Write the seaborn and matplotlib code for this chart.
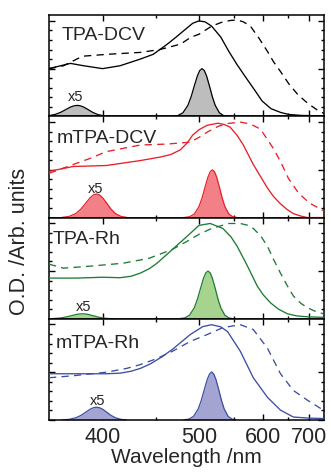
import numpy as np
import pandas as pd
import matplotlib
matplotlib.use("Agg")
import matplotlib.pyplot as plt
import seaborn as sns
from matplotlib.ticker import MultipleLocator, NullFormatter, FixedLocator

# ---------------- data (wavelength in nm, O.D. normalised) ----------------
names = ["TPA-DCV", "mTPA-DCV", "TPA-Rh", "mTPA-Rh"]
line_colors = ["#000000", "#e8202a", "#1e7b34", "#3b4ea3"]
fill_colors = ["#bdbdbd", "#f28086", "#a6d48e", "#a4a4d2"]

# solid: solution absorption
sol_wl = [
    [360, 368, 375, 385, 400, 415, 434, 447, 462, 472, 480, 492, 500, 508, 517, 530, 542, 555, 570, 585, 598, 615, 635, 652, 680, 740],
    [360, 377, 403, 434, 455, 466, 477, 485, 492, 500, 511, 526, 535, 544, 555, 565, 582, 595, 608, 620, 634, 648, 662, 680, 696, 740],
    [360, 380, 400, 415, 425, 434, 443, 451, 468, 485, 500, 515, 533, 545, 555, 572, 589, 600, 614, 630, 649, 670, 696, 740],
    [360, 380, 403, 415, 425, 434, 444, 456, 468, 489, 505, 517, 530, 540, 560, 582, 608, 634, 662, 696, 740],
]
sol_od = [
    [0.50, 0.53, 0.555, 0.53, 0.50, 0.53, 0.60, 0.65, 0.756, 0.83, 0.89, 0.975, 1.00, 0.99, 0.945, 0.83, 0.68, 0.54, 0.40, 0.27, 0.16, 0.08, 0.04, 0.02, 0.01, 0.005],
    [0.484, 0.535, 0.545, 0.597, 0.635, 0.66, 0.71, 0.78, 0.864, 0.92, 0.967, 0.988, 0.975, 0.947, 0.86, 0.76, 0.556, 0.43, 0.309, 0.22, 0.144, 0.085, 0.041, 0.015, 0.0, 0.0],
    [0.426, 0.426, 0.435, 0.43, 0.445, 0.478, 0.525, 0.582, 0.728, 0.863, 0.978, 0.998, 0.946, 0.86, 0.759, 0.551, 0.343, 0.25, 0.166, 0.10, 0.052, 0.03, 0.02, 0.015],
    [0.484, 0.484, 0.484, 0.49, 0.51, 0.54, 0.587, 0.66, 0.741, 0.895, 0.978, 0.998, 0.975, 0.926, 0.72, 0.442, 0.237, 0.103, 0.031, 0.02, 0.015],
]

# dashed: film absorption
film_wl = [
    [360, 370, 384, 404, 434, 454, 477, 490, 500, 517, 533, 545, 555, 565, 577, 592, 608, 620, 634, 652, 672, 690, 700, 720, 740],
    [360, 377, 390, 403, 434, 462, 489, 500, 511, 526, 540, 560, 577, 595, 620, 634, 651, 674, 700, 738],
    [360, 370, 390, 418, 443, 468, 485, 500, 517, 542, 560, 572, 582, 595, 608, 620, 634, 648, 662, 680, 696, 715, 738],
    [360, 377, 403, 421, 434, 450, 468, 489, 511, 533, 560, 582, 608, 634, 662, 696, 738],
]
film_od = [
    [0.50, 0.53, 0.63, 0.65, 0.67, 0.70, 0.756, 0.83, 0.86, 0.945, 0.99, 1.005, 1.01, 0.99, 0.945, 0.82, 0.68, 0.57, 0.47, 0.34, 0.23, 0.16, 0.126, 0.07, 0.03],
    [0.463, 0.556, 0.62, 0.69, 0.76, 0.77, 0.79, 0.84, 0.895, 0.955, 0.985, 1.0, 0.98, 0.926, 0.72, 0.587, 0.41, 0.257, 0.154, 0.072],
    [0.572, 0.53, 0.551, 0.582, 0.634, 0.728, 0.811, 0.884, 0.946, 0.998, 0.998, 0.98, 0.946, 0.87, 0.759, 0.62, 0.478, 0.35, 0.239, 0.16, 0.114, 0.08, 0.052],
    [0.442, 0.463, 0.50, 0.54, 0.58, 0.64, 0.72, 0.823, 0.895, 0.967, 0.998, 0.947, 0.751, 0.484, 0.309, 0.206, 0.103],
]

# filled peaks (short-wavelength one is multiplied x5)
small_wl = [
    [354, 359, 364, 368, 372, 375, 377.5, 380, 382.5, 385, 388, 392, 396, 401, 406],
    [369, 374, 379, 383, 387, 390, 392.5, 395, 397.5, 400, 403, 407, 411, 416, 421],
    [358, 363, 368, 372, 376, 379, 381.5, 384, 386.5, 389, 392, 396, 400, 405, 410],
    [369, 374, 379, 383, 387, 390, 392.5, 395, 397.5, 400, 403, 407, 411, 416, 421],
]
small_od = [
    [0.001, 0.0054, 0.0196, 0.042, 0.074, 0.097, 0.110, 0.115, 0.110, 0.097, 0.074, 0.042, 0.0196, 0.0054, 0.001],
    [0.002, 0.0116, 0.042, 0.091, 0.159, 0.208, 0.237, 0.247, 0.237, 0.208, 0.159, 0.091, 0.042, 0.0116, 0.002],
    [0.0005, 0.0024, 0.0088, 0.019, 0.033, 0.044, 0.050, 0.052, 0.050, 0.044, 0.033, 0.019, 0.0088, 0.0024, 0.0005],
    [0.0012, 0.0063, 0.0228, 0.049, 0.086, 0.113, 0.128, 0.134, 0.128, 0.113, 0.086, 0.049, 0.0228, 0.0063, 0.0012],
]
big_wl = [
    [468, 474, 480, 486, 490, 494, 498, 501, 504, 507, 510, 514, 518, 522, 528, 534, 540],
    [482, 488, 494, 500, 504, 508, 512, 515, 518, 521, 524, 528, 532, 536, 542, 548, 554],
    [476, 482, 488, 494, 498, 502, 506, 509, 512, 515, 518, 522, 526, 530, 536, 542, 548],
    [481, 487, 493, 499, 503, 507, 511, 514, 517, 520, 523, 527, 531, 535, 541, 547, 553],
]
big_od = [
    [0.0015, 0.0085, 0.037, 0.115, 0.205, 0.318, 0.425, 0.48, 0.5, 0.48, 0.425, 0.318, 0.205, 0.115, 0.037, 0.0085, 0.0015],
    [0.0015, 0.0085, 0.037, 0.115, 0.205, 0.318, 0.425, 0.48, 0.5, 0.48, 0.425, 0.318, 0.205, 0.115, 0.037, 0.0085, 0.0015],
    [0.0015, 0.0085, 0.037, 0.115, 0.205, 0.318, 0.425, 0.48, 0.5, 0.48, 0.425, 0.318, 0.205, 0.115, 0.037, 0.0085, 0.0015],
    [0.0015, 0.0085, 0.037, 0.115, 0.205, 0.318, 0.425, 0.48, 0.504, 0.48, 0.425, 0.318, 0.205, 0.115, 0.037, 0.0085, 0.0015],
]
x5_pos = [(379, 0.158), (394, 0.257), (384.6, 0.083), (395.8, 0.154)]
label_pos = [(0.047, 0.75), (0.029, 0.735), (0.015, 0.743), (0.025, 0.716)]

xticks_major = [400, 500, 600, 700]
xticks_minor = [450, 550, 650]
xlim = (360, 740)

# ---------------- style ----------------
sns.set_theme(style="ticks")
plt.rcParams["font.family"] = ["Liberation Sans", "DejaVu Sans"]
plt.rcParams["axes.linewidth"] = 1.1

fig, axes = plt.subplots(4, 1, sharex=True, figsize=(3.31, 4.74), dpi=100)
fig.subplots_adjust(left=0.148, right=0.979, top=0.968, bottom=0.114, hspace=0)


def fwd(x):
    x = np.asarray(x, dtype=float)
    with np.errstate(divide="ignore", invalid="ignore"):
        return -1240.0 / x


def inv(y):
    y = np.asarray(y, dtype=float)
    with np.errstate(divide="ignore", invalid="ignore"):
        return -1240.0 / y


for i, ax in enumerate(axes):
    c = line_colors[i]
    fc = fill_colors[i]
    # filled peaks
    for wl, od in ((small_wl[i], small_od[i]), (big_wl[i], big_od[i])):
        ax.fill_between(wl, 0, od, color=fc, linewidth=0, zorder=1)
        sns.lineplot(x=wl, y=od, ax=ax, color=c, linewidth=0.9, sort=False,
                     estimator=None, zorder=2)
    sns.lineplot(x=sol_wl[i], y=sol_od[i], ax=ax, color=c, linewidth=0.95,
                 sort=False, estimator=None, zorder=3)
    sns.lineplot(x=film_wl[i], y=film_od[i], ax=ax, color=c, linewidth=0.95,
                 sort=False, estimator=None, zorder=3,
                 linestyle=(0, (5.5, 4.0)))
    ax.text(x5_pos[i][0], x5_pos[i][1], "x5", ha="center", va="baseline",
            fontsize=10.5)
    ax.text(label_pos[i][0], label_pos[i][1], names[i], transform=ax.transAxes,
            ha="left", va="baseline", fontsize=14)

    ax.set_xscale("function", functions=(fwd, inv))
    ax.set_xlim(*xlim)
    ax.set_ylim(0, 1.06)
    ax.yaxis.set_major_locator(MultipleLocator(0.5))
    ax.yaxis.set_minor_locator(MultipleLocator(0.1))
    ax.yaxis.set_major_formatter(NullFormatter())
    ax.set_ylabel("")
    ax.xaxis.set_minor_locator(FixedLocator(xticks_minor))
    ax.set_xticks(xticks_major)
    ax.tick_params(which="both", direction="in", top=True, right=True,
                   color="black", width=1.0)
    ax.tick_params(which="major", length=4.5)
    ax.tick_params(which="minor", length=2.5)
    for sp in ax.spines.values():
        sp.set_color("black")
        sp.set_linewidth(1.1)

axes[-1].set_xticklabels([str(v) for v in xticks_major], fontsize=15.5)
axes[-1].tick_params(axis="x", pad=5)
axes[-1].set_xlabel("Wavelength /nm", fontsize=15, labelpad=0)
for ax in axes[:-1]:
    ax.tick_params(axis="x", labelbottom=False)

fig.text(0.06, 0.49, "O.D. /Arb. units", rotation=90, ha="center",
         va="center", fontsize=15.5)

fig.savefig("out.png", dpi=100)
